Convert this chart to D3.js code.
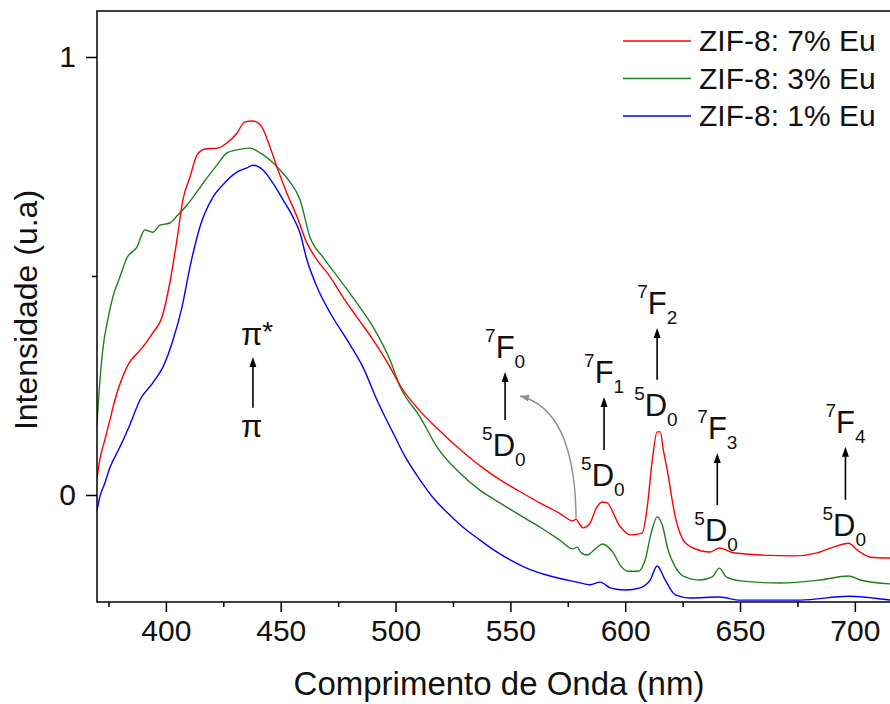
<!DOCTYPE html>
<html>
<head>
<meta charset="utf-8">
<script src="https://cdn.jsdelivr.net/npm/d3@7"></script>
<style>
  body { margin: 0; background: #fff; }
  svg { display: block; font-family: "Liberation Sans", Arial, sans-serif; }
</style>
</head>
<body>
<svg id="chart" width="890" height="704"></svg>
<script>
// emission spectra, [wavelength nm, intensity u.a]
const eu7 = [
  [370, 0.037], [371.2, 0.080], [373.4, 0.126], [375.6, 0.171], [377.8, 0.217],
  [383.0, 0.292], [390.0, 0.338], [394.3, 0.370], [398.3, 0.406], [401.7, 0.484],
  [404.8, 0.582], [407.4, 0.674], [410.5, 0.726], [413.5, 0.776], [417.0, 0.790],
  [422.7, 0.792], [426.6, 0.804], [430.9, 0.826], [434.4, 0.852], [437.9, 0.854],
  [441.8, 0.840], [445.3, 0.795], [448.8, 0.742], [452.7, 0.689], [457.1, 0.635],
  [461.4, 0.575], [465.8, 0.537], [471.5, 0.498], [477.1, 0.452], [483.2, 0.406],
  [490.2, 0.354], [497.6, 0.292], [502.0, 0.250], [510.6, 0.192], [518.0, 0.153],
  [525.0, 0.118], [532.4, 0.085], [538.0, 0.062], [545.4, 0.035], [554.1, 0.008],
  [562.8, -0.018], [571.5, -0.042], [577.2, -0.059],
  [578.6, -0.055], [580.0, -0.066], [581.7, -0.075], [584.7, -0.064], [587.4, -0.030],
  [590.0, -0.016], [592.2, -0.018], [594.8, -0.041], [597.0, -0.066], [599.1, -0.080],
  [602.2, -0.091], [607.4, -0.087], [609.6, -0.027], [611.8, 0.080], [613.9, 0.144],
  [615.3, 0.144], [616.6, 0.103], [618.3, 0.057], [621.8, -0.050], [625.3, -0.103],
  [629.6, -0.121], [637.0, -0.130], [641.0, -0.121], [647.1, -0.132], [658.8, -0.137],
  [673.2, -0.139], [683.7, -0.132], [690.6, -0.119], [697.2, -0.110], [701.1, -0.126],
  [706.8, -0.142], [715.5, -0.144]
]
const eu3 = [
  [370, 0.160], [370.4, 0.196], [372.5, 0.331], [374.7, 0.400], [376.9, 0.452],
  [380.0, 0.498], [383.0, 0.541], [387.4, 0.566], [390.8, 0.605], [394.3, 0.600],
  [397.4, 0.616], [401.7, 0.621], [405.2, 0.639], [409.2, 0.662], [413.5, 0.692],
  [417.9, 0.724], [422.2, 0.753], [426.6, 0.781], [430.9, 0.788], [436.6, 0.792],
  [441.0, 0.781], [445.3, 0.765], [449.7, 0.742], [454.0, 0.715], [458.4, 0.674],
  [462.7, 0.589], [468.4, 0.543], [475.8, 0.491], [483.2, 0.438], [490.2, 0.384],
  [497.6, 0.308], [502.0, 0.247], [510.7, 0.178], [518.0, 0.110], [528.0, 0.050],
  [536.7, 0.011], [545.4, -0.018], [554.1, -0.046], [562.8, -0.073], [571.5, -0.103],
  [577.2, -0.123],
  [579.1, -0.119], [580.8, -0.132], [583.4, -0.137], [587.4, -0.121], [590.0, -0.112],
  [592.6, -0.119], [594.8, -0.132], [597.8, -0.160], [601.3, -0.174], [605.7, -0.174],
  [608.7, -0.148], [611.3, -0.087], [613.9, -0.050], [616.1, -0.068], [618.7, -0.126],
  [621.8, -0.164], [625.3, -0.185], [632.7, -0.194], [637.9, -0.187], [641.0, -0.167],
  [644.0, -0.187], [650.1, -0.196], [667.5, -0.201], [684.9, -0.194], [697.2, -0.185],
  [702.4, -0.194], [715.5, -0.203]
]
const eu1 = [
  [370, -0.037], [371.2, -0.005], [373.4, 0.027], [375.6, 0.062], [380.0, 0.110],
  [384.3, 0.160], [388.7, 0.217], [394.3, 0.256], [398.7, 0.292], [403.1, 0.354],
  [407.0, 0.429], [410.5, 0.521], [414.8, 0.612], [420.5, 0.680], [424.8, 0.708],
  [430.9, 0.737], [435.3, 0.747], [437.9, 0.753], [442.3, 0.742], [446.6, 0.712],
  [451.0, 0.674], [455.3, 0.635], [458.4, 0.598], [461.4, 0.537], [465.8, 0.475],
  [471.5, 0.416], [478.9, 0.354], [485.8, 0.292], [491.9, 0.217], [498.9, 0.142],
  [504.1, 0.088], [510.7, 0.034], [517.1, -0.011], [523.7, -0.046], [530.2, -0.077],
  [536.8, -0.103], [543.2, -0.127], [549.9, -0.148], [556.3, -0.165], [567.3, -0.185],
  [579.1, -0.199], [584.7, -0.205], [589.1, -0.199], [593.5, -0.212], [600.0, -0.217],
  [606.5, -0.212], [610.9, -0.194], [613.9, -0.162], [617.4, -0.194], [621.8, -0.228],
  [628.3, -0.235], [641.0, -0.233], [650.1, -0.240], [676.3, -0.240], [697.2, -0.231],
  [715.5, -0.240]
]

const seriesNames = ['ZIF-8: 7% Eu', 'ZIF-8: 3% Eu', 'ZIF-8: 1% Eu']
const seriesColors = ['#ff0000', '#1f7f1f', '#0000ff']
const xTicks = [400, 450, 500, 550, 600, 650, 700]
const xMinor = [375, 425, 475, 525, 575, 625, 675]
const yTicks = [0, 1]
const yMinor = [0.5]

// transitions: x nm, arrow top / bottom in intensity units
const transitions = [
  { up: '7', upL: 'F', upS: '0', lo: '5', loL: 'D', loS: '0', x: 547.7, top: 0.281, bottom: 0.171 },
  { up: '7', upL: 'F', upS: '1', lo: '5', loL: 'D', loS: '0', x: 590.8, top: 0.224, bottom: 0.103 },
  { up: '7', upL: 'F', upS: '2', lo: '5', loL: 'D', loS: '0', x: 613.9, top: 0.381, bottom: 0.263 },
  { up: '7', upL: 'F', upS: '3', lo: '5', loL: 'D', loS: '0', x: 640.1, top: 0.096, bottom: -0.023 },
  { up: '7', upL: 'F', upS: '4', lo: '5', loL: 'D', loS: '0', x: 695.9, top: 0.110, bottom: -0.011 }
]
const piArrow = { x: 437.9, top: 0.315, bottom: 0.199 }
// curved pointer to the small 580 nm feature: start, control, end
const pointer = [[578.6, -0.053], [578.2, 0.194], [554.2, 0.226]]

const svg = d3.select('#chart')
const plotL = 97, plotR = 890, plotT = 11, plotB = 602

const x = d3.scaleLinear().domain([370, 715.3]).range([plotL, plotR])
const y = d3.scaleLinear().domain([-0.2443, 1.105]).range([plotB, plotT])

svg.append('defs').append('clipPath').attr('id', 'plot')
  .append('rect').attr('x', plotL).attr('y', plotT).attr('width', plotR - plotL).attr('height', plotB - plotT)

const line = d3.line().curve(d3.curveMonotoneX).x(d => x(d[0])).y(d => y(d[1]))

const plot = svg.append('g').attr('clip-path', 'url(#plot)')
;[eu1, eu3, eu7].forEach((s, i) => {
  plot.append('path')
    .datum(s)
    .attr('d', line)
    .attr('fill', 'none')
    .attr('stroke', seriesColors[2 - i])
    .attr('stroke-width', 1.4)
})

// axes
const axisStyle = g => {
  g.select('.domain').remove()
  g.selectAll('.tick line').attr('stroke', '#000').attr('stroke-width', 1.5)
  g.selectAll('.tick text').attr('fill', '#111').attr('font-family', '"Liberation Sans", Arial, sans-serif')
}

svg.append('g')
  .attr('transform', `translate(0,${plotB})`)
  .call(d3.axisBottom(x).tickValues(xTicks).tickSize(10).tickPadding(8).tickFormat(d3.format('d')))
  .call(axisStyle)
  .call(g => g.selectAll('.tick text').attr('font-size', 30))

svg.append('g')
  .attr('transform', `translate(0,${plotB})`)
  .call(d3.axisBottom(x).tickValues(xMinor).tickSize(5).tickFormat(''))
  .call(axisStyle)

svg.append('g')
  .attr('transform', `translate(${plotL},0)`)
  .call(d3.axisLeft(y).tickValues(yTicks).tickSize(11).tickPadding(10).tickFormat(d3.format('d')))
  .call(axisStyle)
  .call(g => g.selectAll('.tick text').attr('font-size', 30))

svg.append('g')
  .attr('transform', `translate(${plotL},0)`)
  .call(d3.axisLeft(y).tickValues(yMinor).tickSize(5).tickFormat(''))
  .call(axisStyle)

// frame
svg.append('path')
  .attr('d', `M${plotR},${plotT}H${plotL}V${plotB}H${plotR}`)
  .attr('fill', 'none').attr('stroke', '#000').attr('stroke-width', 1.5)

// titles
svg.append('text')
  .attr('x', 499).attr('y', 695)
  .attr('text-anchor', 'middle')
  .attr('font-size', 33).attr('fill', '#111')
  .text('Comprimento de Onda (nm)')

svg.append('text')
  .attr('transform', 'translate(37,310) rotate(-90)')
  .attr('text-anchor', 'middle')
  .attr('font-size', 32).attr('fill', '#111')
  .text('Intensidade (u.a)')

// legend
const legend = svg.append('g')
seriesNames.forEach((name, i) => {
  const ly = 41 + i * 37.5
  legend.append('line')
    .attr('x1', 623).attr('x2', 691).attr('y1', ly).attr('y2', ly)
    .attr('stroke', seriesColors[i]).attr('stroke-width', 1.6)
  legend.append('text')
    .attr('x', 699).attr('y', ly + 10)
    .attr('font-size', 30).attr('fill', '#111')
    .text(name)
})

// annotations
const ann = svg.append('g').attr('fill', '#111')

function arrow(xp, y1, y2, color) {
  ann.append('line')
    .attr('x1', xp).attr('x2', xp).attr('y1', y2).attr('y2', y1 + 8)
    .attr('stroke', color).attr('stroke-width', 1.6)
  ann.append('path')
    .attr('d', `M${xp},${y1} L${xp + 3.5},${y1 + 10} L${xp - 3.5},${y1 + 10} Z`)
    .attr('fill', color)
}

function termLabel(xp, yp, sup, main, sub) {
  const t = ann.append('text').attr('x', xp).attr('y', yp)
  t.append('tspan').attr('font-size', 19).attr('dy', -16).text(sup)
  t.append('tspan').attr('font-size', 31).attr('dy', 16).text(main)
  t.append('tspan').attr('font-size', 19).attr('dy', 10).text(sub)
}

transitions.forEach(d => {
  const xp = x(d.x), yt = y(d.top), yb = y(d.bottom)
  arrow(xp, yt, yb, '#000')
  termLabel(xp - 20, yt - 14, d.up, d.upL, d.upS)
  termLabel(xp - 23, yb + 36, d.lo, d.loL, d.loS)
})

{
  const xp = x(piArrow.x), yt = y(piArrow.top), yb = y(piArrow.bottom)
  arrow(xp, yt, yb, '#000')
  const t = ann.append('text').attr('x', xp - 12).attr('y', yt - 12)
  t.append('tspan').attr('font-size', 31).text('π')
  t.append('tspan').attr('font-size', 28).attr('dy', -4).text('*')
  ann.append('text').attr('x', xp - 12).attr('y', yb + 29).attr('font-size', 31).text('π')
}

// grey curved pointer
{
  const p = pointer.map(d => [x(d[0]), y(d[1])])
  svg.append('path')
    .attr('d', `M${p[0][0]},${p[0][1]} Q${p[1][0]},${p[1][1]} ${p[2][0]},${p[2][1]}`)
    .attr('fill', 'none').attr('stroke', '#8c8c8c').attr('stroke-width', 1.4)
  const ang = Math.atan2(p[2][1] - p[1][1], p[2][0] - p[1][0]) * 180 / Math.PI
  svg.append('path')
    .attr('d', 'M0,0 L-9,-3.5 L-9,3.5 Z')
    .attr('fill', '#8c8c8c')
    .attr('transform', `translate(${p[2][0]},${p[2][1]}) rotate(${ang})`)
}
</script>
</body>
</html>
